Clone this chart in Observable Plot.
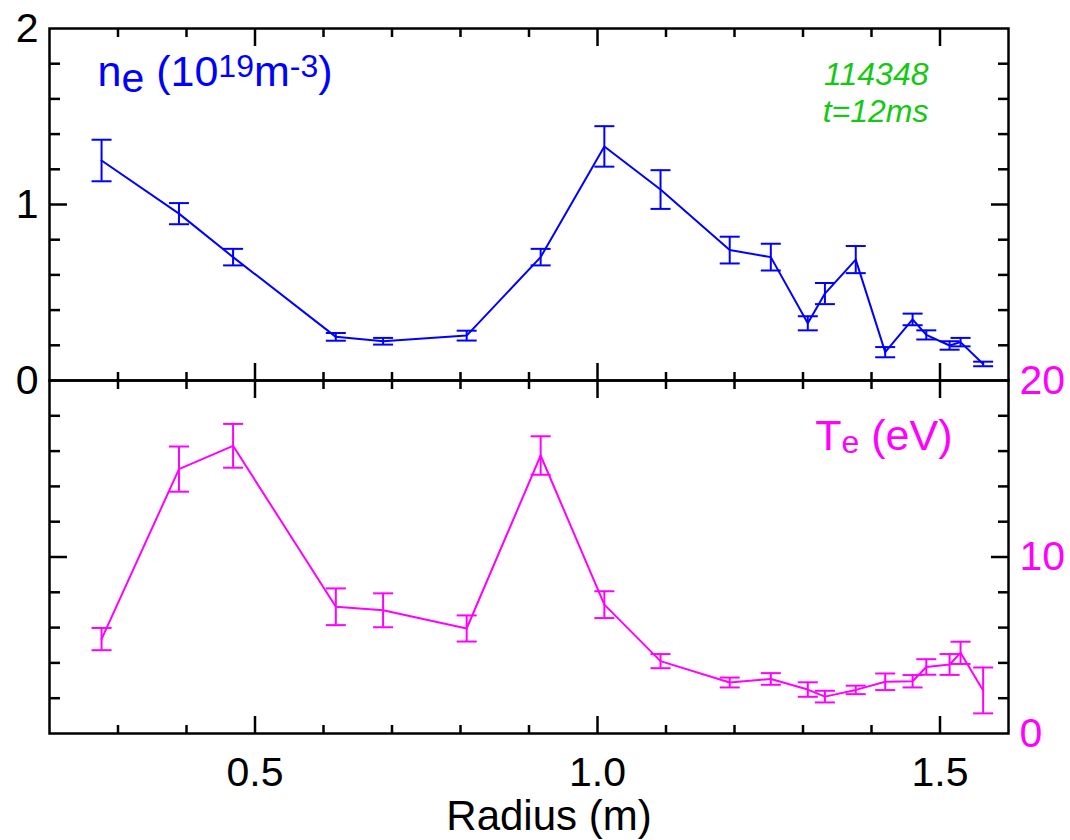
<!DOCTYPE html>
<html><head><meta charset="utf-8">
<script src="https://cdn.jsdelivr.net/npm/d3@7"></script>
<script src="https://cdn.jsdelivr.net/npm/@observablehq/plot@0.6"></script>
<style>
html,body{margin:0;padding:0;background:#fff;}
#chart{position:relative;width:1070px;height:840px;}
#chart svg{position:absolute;left:0;top:0;}
</style></head><body><div id="chart"></div>
<script>
// ---- data ----
const radius   = [0.276, 0.389, 0.468, 0.618, 0.687, 0.809, 0.917, 1.010, 1.092, 1.193, 1.253, 1.307, 1.332, 1.377, 1.420, 1.460, 1.480, 1.514, 1.530, 1.563];
const neValues = [1.250, 0.948, 0.701, 0.248, 0.223, 0.255, 0.701, 1.330, 1.085, 0.741, 0.701, 0.325, 0.494, 0.687, 0.161, 0.347, 0.259, 0.199, 0.218, 0.094];
const neErrors = [0.118, 0.060, 0.047, 0.022, 0.019, 0.028, 0.047, 0.115, 0.110, 0.076, 0.076, 0.040, 0.060, 0.077, 0.029, 0.033, 0.026, 0.024, 0.024, 0.013];
const teValues = [5.35, 14.98, 16.30, 7.18, 6.98, 5.95, 15.75, 7.30, 4.10, 2.89, 3.09, 2.49, 2.09, 2.47, 2.93, 2.96, 3.77, 3.91, 4.57, 2.44];
const teErrors = [0.63, 1.28, 1.24, 1.04, 0.96, 0.74, 1.09, 0.76, 0.40, 0.28, 0.33, 0.41, 0.33, 0.24, 0.47, 0.35, 0.44, 0.59, 0.63, 1.30];

// ---- ticks and labels ----
const xTickLabels  = [0.5, 1.0, 1.5];
const xMinorTicks  = [0.3, 0.4, 0.6, 0.7, 0.8, 0.9, 1.1, 1.2, 1.3, 1.4];
const neTickLabels = [0, 1, 2];
const neMinorTicks = [0.2, 0.4, 0.6, 0.8, 1.2, 1.4, 1.6, 1.8];
const neMajorTicks = [1];
const teTickLabels = [0, 10, 20];
const teMinorTicks = [2, 4, 6, 8, 12, 14, 16, 18];
const teMajorTicks = [10];
const xAxisTitle = "Radius (m)";
const shotLabel = "114348\nt=12ms";
const neLabelParts = [["n", ""], ["e", "sub"], [" (10", ""], ["19", "sup"], ["m", ""], ["-3", "sup"], [")", ""]];
const teLabelParts = [["T", ""], ["e", "sub"], [" (eV)", ""]];

// ---- styling ----
const BLUE = "#0000ff", MAGENTA = "#ff00ff", GREEN = "#14c814";
const FONT = "'Liberation Sans', Arial, Helvetica, sans-serif";
const W = 1070, H = 840, ML = 49, MR = 62;

const neData = radius.map((r, i) => ({r, v: neValues[i], lo: neValues[i] - neErrors[i], hi: neValues[i] + neErrors[i]}));
const teData = radius.map((r, i) => ({r, v: teValues[i], lo: teValues[i] - teErrors[i], hi: teValues[i] + teErrors[i]}));

const capSymbol = {draw(ctx, size) { const r = Math.sqrt(size / Math.PI); ctx.moveTo(-r, 0); ctx.lineTo(r, 0); }};

function frameTicks(yMinor, yMajor) {
  const s = {stroke: "black", strokeWidth: 2.5, label: null, tickFormat: () => ""};
  return [
    Plot.axisX({...s, anchor: "top", ticks: xMinorTicks, tickSize: -8}),
    Plot.axisX({...s, anchor: "top", ticks: xTickLabels, tickSize: -17}),
    Plot.axisX({...s, anchor: "bottom", ticks: xMinorTicks, tickSize: -8}),
    Plot.axisX({...s, anchor: "bottom", ticks: xTickLabels, tickSize: -17}),
    Plot.axisY({...s, anchor: "left", ticks: yMinor, tickSize: -11}),
    Plot.axisY({...s, anchor: "left", ticks: yMajor, tickSize: -18}),
    Plot.axisY({...s, anchor: "right", ticks: yMinor, tickSize: -11}),
    Plot.axisY({...s, anchor: "right", ticks: yMajor, tickSize: -18})
  ];
}

function series(data, color) {
  return [
    Plot.ruleX(data, {x: "r", y1: "lo", y2: "hi", stroke: color, strokeWidth: 2}),
    Plot.dot(data, {x: "r", y: "lo", symbol: capSymbol, r: 10, fill: "none", stroke: color, strokeWidth: 2}),
    Plot.dot(data, {x: "r", y: "hi", symbol: capSymbol, r: 10, fill: "none", stroke: color, strokeWidth: 2}),
    Plot.line(data, {x: "r", y: "v", stroke: color, strokeWidth: 2})
  ];
}

const style = {fontFamily: FONT, background: "transparent", overflow: "visible", color: "black"};
const plain = parts => parts.map(p => p[0]).join("");

const bottomPlot = Plot.plot({
  width: W, height: H, marginLeft: ML, marginRight: MR, marginTop: 380, marginBottom: 107,
  x: {domain: [0.2, 1.6], axis: null},
  y: {domain: [0, 20], axis: null},
  style,
  marks: [
    ...series(teData, MAGENTA),
    Plot.frame({stroke: "black", strokeWidth: 2.5}),
    ...frameTicks(teMinorTicks, teMajorTicks),
    Plot.axisY({anchor: "right", ticks: teTickLabels, tickSize: 0, tickPadding: 11, fontSize: 41, label: null, fill: MAGENTA, tickFormat: d3.format("d")}),
    Plot.axisX({anchor: "bottom", ticks: xTickLabels, tickSize: 0, tickPadding: 23, fontSize: 41, label: null, fill: "black", tickFormat: d3.format(".1f")}),
    Plot.text([xAxisTitle], {text: d => d, frameAnchor: "bottom", lineAnchor: "bottom", dy: 96, dx: 20, fontSize: 42, fill: "black"}),
    Plot.text([plain(teLabelParts)], {text: d => d, frameAnchor: "top-right", lineAnchor: "bottom", textAnchor: "end", dx: -56, dy: 69, fontSize: 43, fill: MAGENTA})
  ]
});

const topPlot = Plot.plot({
  width: W, height: H, marginLeft: ML, marginRight: MR, marginTop: 28, marginBottom: 460,
  x: {domain: [0.2, 1.6], axis: null},
  y: {domain: [0, 2], axis: null},
  style,
  marks: [
    ...series(neData, BLUE),
    Plot.frame({stroke: "black", strokeWidth: 2.5}),
    ...frameTicks(neMinorTicks, neMajorTicks),
    Plot.axisY({anchor: "left", ticks: neTickLabels, tickSize: 0, tickPadding: 11, fontSize: 41, label: null, fill: "black", tickFormat: d3.format("d")}),
    Plot.text([plain(neLabelParts)], {text: d => d, frameAnchor: "top-left", lineAnchor: "bottom", textAnchor: "start", dx: 48, dy: 57, fontSize: 43, fill: BLUE}),
    Plot.text([shotLabel], {text: d => d, frameAnchor: "top-right", lineAnchor: "bottom", textAnchor: "end", lineHeight: 1.15, dx: -80, dy: 93, fontSize: 32, fontStyle: "italic", fill: GREEN})
  ]
});

function richText(svg, parts, base, sub, sup) {
  const full = plain(parts);
  d3.select(svg).selectAll("text").filter(function() { return this.textContent === full; }).each(function() {
    const t = d3.select(this);
    t.text(null);
    let shift = 0;
    for (const [s, kind] of parts) {
      const target = kind === "sub" ? sub.dy : kind === "sup" ? -sup.dy : 0;
      t.append("tspan")
        .attr("dy", target - shift)
        .attr("font-size", kind === "sub" ? sub.size : kind === "sup" ? sup.size : base)
        .text(s);
      shift = target;
    }
  });
}
richText(topPlot, neLabelParts, 43, {size: 41, dy: 6}, {size: 32, dy: 9});
richText(bottomPlot, teLabelParts, 43, {size: 32, dy: 3}, {size: 32, dy: 9});

const chart = document.getElementById("chart");
chart.appendChild(bottomPlot);
chart.appendChild(topPlot);
</script></body></html>
